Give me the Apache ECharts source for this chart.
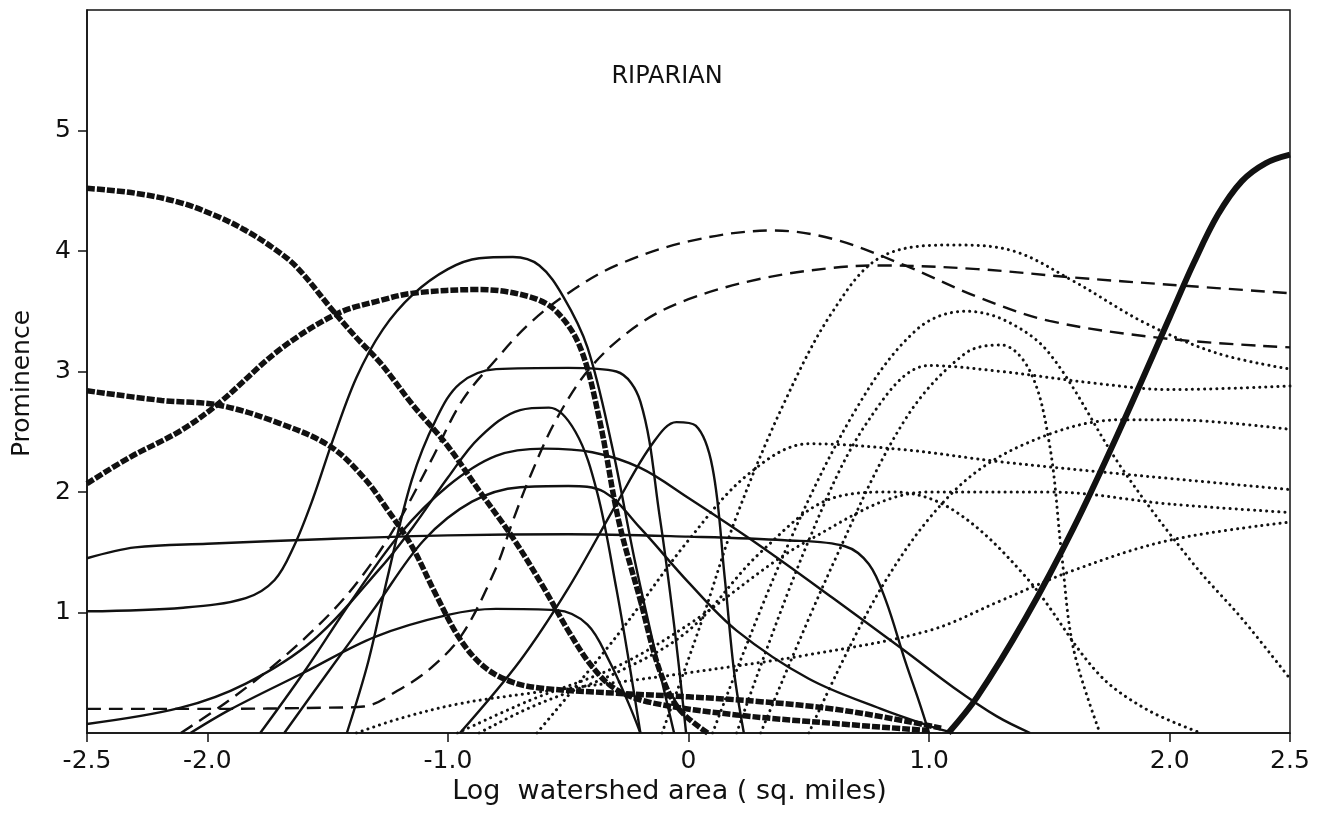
<!DOCTYPE html>
<html>
<head>
<meta charset="utf-8">
<script src="https://cdn.jsdelivr.net/npm/echarts@6/dist/echarts.min.js"></script>
<style>
  html, body { margin: 0; padding: 0; background: #fff; }
  #chart { width: 1327px; height: 819px; }
</style>
</head>
<body>
<div id="chart"></div>
<script>
// Tick positions along each axis
const xTicks = [-2.5, -2.0, -1.0, 0, 1.0, 2.0, 2.5];
const yTicks = [1, 2, 3, 4, 5];

// Hatched (rope) curves: [log area, prominence]
const hatchA = [[-2.5,4.52],[-2.3,4.48],[-2.11,4.40],[-1.95,4.28],[-1.84,4.17],[-1.73,4.03],[-1.63,3.87],[-1.48,3.51],[-1.38,3.28],[-1.28,3.07],[-1.145,2.72],[-1.0,2.38],[-0.87,2.01],[-0.73,1.62],[-0.6,1.2],[-0.5,0.85],[-0.4,0.55],[-0.3,0.36],[-0.15,0.25],[0.2,0.15],[0.6,0.08],[1.0,0.02]];
const hatchB = [[-2.5,2.07],[-2.32,2.29],[-2.11,2.51],[-1.95,2.74],[-1.7,3.18],[-1.46,3.48],[-1.28,3.59],[-1.145,3.65],[-0.87,3.68],[-0.66,3.62],[-0.55,3.5],[-0.45,3.2],[-0.37,2.6],[-0.29,1.76],[-0.2,1.1],[-0.12,0.52],[-0.04,0.2],[0.08,0]];
const hatchC = [[-2.5,2.84],[-2.19,2.76],[-1.95,2.72],[-1.7,2.57],[-1.49,2.38],[-1.35,2.12],[-1.25,1.85],[-1.15,1.55],[-1.05,1.15],[-0.95,0.78],[-0.85,0.55],[-0.73,0.42],[-0.6,0.37],[-0.3,0.33],[0,0.3],[0.3,0.26],[0.6,0.2],[0.9,0.1],[1.05,0.04]];

// Solid curves
const solidA = [[-2.5,1.01],[-2.1,1.04],[-1.84,1.12],[-1.72,1.27],[-1.64,1.55],[-1.56,1.95],[-1.48,2.42],[-1.38,2.95],[-1.27,3.35],[-1.145,3.64],[-1.0,3.85],[-0.87,3.94],[-0.73,3.95],[-0.62,3.88],[-0.52,3.62],[-0.42,3.2],[-0.32,2.4],[-0.22,1.4],[-0.13,0.6],[-0.06,0]];
const solidB = [[-2.5,1.45],[-2.3,1.54],[-2.0,1.57],[-1.5,1.61],[-1.0,1.64],[-0.5,1.65],[0,1.63],[0.4,1.6],[0.65,1.55],[0.75,1.4],[0.82,1.1],[0.9,0.6],[0.96,0.25],[1.0,0]];
const solidC = [[-1.42,0],[-1.33,0.6],[-1.25,1.3],[-1.15,2.1],[-1.05,2.6],[-0.95,2.9],[-0.8,3.02],[-0.5,3.03],[-0.3,3.0],[-0.2,2.75],[-0.12,1.8],[-0.06,0.9],[-0.01,0]];
const solidD = [[-2.5,0.075],[-2.11,0.21],[-1.84,0.41],[-1.56,0.77],[-1.28,1.37],[-1.145,1.71],[-1.0,2.12],[-0.87,2.45],[-0.7,2.68],[-0.58,2.7],[-0.47,2.5],[-0.38,2.0],[-0.3,1.2],[-0.24,0.5],[-0.2,0]];
const solidE = [[-1.78,0],[-1.6,0.5],[-1.4,1.1],[-1.2,1.65],[-1.0,2.05],[-0.8,2.3],[-0.6,2.36],[-0.4,2.33],[-0.2,2.2],[0,1.95],[0.3,1.55],[0.6,1.12],[0.9,0.68],[1.1,0.38],[1.28,0.14],[1.42,0]];
const solidF = [[-1.68,0],[-1.5,0.5],[-1.3,1.05],[-1.1,1.6],[-0.9,1.92],[-0.7,2.04],[-0.5,2.05],[-0.35,2.0],[-0.2,1.7],[0,1.25],[0.2,0.85],[0.5,0.45],[0.8,0.2],[1.0,0.06],[1.1,0]];
const solidG = [[-2.07,0],[-1.9,0.2],[-1.6,0.5],[-1.3,0.8],[-1.0,0.98],[-0.8,1.03],[-0.55,1.02],[-0.42,0.9],[-0.33,0.6],[-0.25,0.25],[-0.2,0]];
const solidH = [[-0.95,0],[-0.7,0.6],[-0.5,1.2],[-0.3,1.9],[-0.15,2.4],[-0.05,2.58],[0.03,2.55],[0.1,2.2],[0.15,1.3],[0.19,0.5],[0.23,0]];

// Heavy solid curve
const heavy = [[1.08,0],[1.2,0.3],[1.4,0.95],[1.6,1.7],[1.8,2.55],[2.0,3.45],[2.1,3.9],[2.2,4.3],[2.3,4.58],[2.4,4.73],[2.5,4.8]];

// Dashed curves
const dashA = [[-2.5,0.2],[-2.0,0.2],[-1.5,0.21],[-1.35,0.22],[-1.21,0.35],[-1.07,0.54],[-0.94,0.82],[-0.8,1.37],[-0.73,1.76],[-0.66,2.12],[-0.55,2.6],[-0.4,3.05],[-0.2,3.4],[0,3.6],[0.3,3.77],[0.6,3.86],[0.8,3.88],[1.2,3.85],[1.6,3.78],[2.0,3.72],[2.5,3.65]];
const dashB = [[-2.11,0],[-1.91,0.27],[-1.7,0.6],[-1.49,0.99],[-1.35,1.32],[-1.21,1.74],[-1.07,2.26],[-0.94,2.76],[-0.8,3.1],[-0.66,3.4],[-0.5,3.65],[-0.3,3.88],[0,4.08],[0.35,4.17],[0.6,4.1],[0.9,3.88],[1.2,3.62],[1.5,3.42],[2.0,3.27],[2.5,3.2]];

// Dotted curves
const dotA = [[-0.11,0],[0.05,0.9],[0.2,1.8],[0.4,2.75],[0.6,3.5],[0.8,3.95],[1.1,4.05],[1.35,4.0],[1.6,3.75],[1.9,3.4],[2.2,3.15],[2.5,3.02]];
const dotB = [[0.1,0],[0.4,1.5],[0.7,2.7],[0.95,3.35],[1.15,3.5],[1.32,3.42],[1.5,3.15],[1.8,2.2],[2.1,1.4],[2.3,0.95],[2.5,0.45]];
const dotC = [[0.3,0],[0.6,1.4],[0.9,2.6],[1.15,3.15],[1.3,3.22],[1.42,3.0],[1.5,2.4],[1.55,1.5],[1.6,0.7],[1.71,0]];
const dotD = [[0.2,0],[0.5,1.6],[0.75,2.6],[1.0,3.05],[1.3,3.0],[1.7,2.9],[2.0,2.85],[2.5,2.88]];
const dotE = [[0.5,0],[0.8,1.2],[1.1,2.0],[1.4,2.4],[1.8,2.6],[2.0,2.6],[2.5,2.52]];
const dotF = [[-0.63,0],[-0.3,0.8],[0.0,1.6],[0.25,2.15],[0.5,2.4],[0.9,2.35],[1.3,2.25],[1.8,2.15],[2.5,2.02]];
const dotG = [[-0.87,0],[-0.66,0.21],[-0.3,0.5],[0,0.85],[0.3,1.5],[0.6,1.95],[0.85,2.0],[1.1,1.85],[1.4,1.3],[1.7,0.5],[1.9,0.2],[2.13,0]];
const dotH = [[-0.96,0],[-0.66,0.27],[-0.3,0.55],[0,0.9],[0.5,1.6],[1.0,2.0],[1.5,2.0],[2.0,1.9],[2.5,1.83]];
const dotI = [[-1.38,0],[-1.2,0.12],[-0.96,0.24],[-0.66,0.33],[-0.3,0.42],[0,0.5],[0.5,0.65],[1.0,0.85],[1.3,1.1],[1.6,1.35],[2.0,1.6],[2.5,1.75]];

const FONT = 'DejaVu Sans';
const INK = '#111';

function curve(data, style, z) {
  return {
    type: 'line', data: data, showSymbol: false, smooth: 0.35,
    silent: true, z: z || 2, lineStyle: style, clip: true
  };
}

const hatchStyle = { color: INK, width: 5.5, type: [8, 2] };
const solidStyle = { color: INK, width: 2.4 };
const dashStyle = { color: INK, width: 2.4, type: [14, 8] };
const dotStyle = { color: INK, width: 3, type: [0.1, 6], cap: 'round' };
const heavyStyle = { color: INK, width: 6 };

const series = [];
[dotA, dotB, dotC, dotD, dotE, dotF, dotG, dotH, dotI].forEach(d => series.push(curve(d, dotStyle, 2)));
[dashA, dashB].forEach(d => series.push(curve(d, dashStyle, 3)));
[solidA, solidB, solidC, solidD, solidE, solidF, solidG, solidH].forEach(d => series.push(curve(d, solidStyle, 3)));
[hatchA, hatchB, hatchC].forEach(d => series.push(curve(d, hatchStyle, 4)));
series.push(curve(heavy, heavyStyle, 5));

const chart = echarts.init(document.getElementById('chart'), null, { renderer: 'canvas' });
chart.setOption({
  animation: false,
  backgroundColor: '#fff',
  textStyle: { fontFamily: FONT },
  title: {
    text: 'RIPARIAN', left: 662, top: 60, textAlign: 'center',
    textStyle: { fontFamily: FONT, fontSize: 24, fontWeight: 'normal', color: INK }
  },
  grid: { left: 87, right: 37, top: 10, bottom: 86, outerBoundsMode: 'none', containLabel: false,
    show: true, borderColor: INK, borderWidth: 1.5, backgroundColor: 'transparent' },
  xAxis: {
    type: 'value', min: -2.5, max: 2.5,
    name: 'Log  watershed area ( sq. miles)', nameLocation: 'middle', nameGap: 43,
    nameTextStyle: { fontFamily: FONT, fontSize: 27, color: INK, padding: [0, 38, 0, 0] },
    axisLine: { show: true, onZero: false, lineStyle: { color: INK, width: 1.5 } },
    axisTick: { show: true, length: 9, lineStyle: { color: INK, width: 1.5 }, customValues: xTicks },
    axisLabel: { customValues: xTicks, color: INK, fontSize: 25, margin: 16, fontFamily: FONT,
      formatter: v => (v === 0 ? '0' : v.toFixed(1)) },
    splitLine: { show: false }
  },
  yAxis: {
    type: 'value', min: 0, max: 6,
    name: 'Prominence', nameLocation: 'middle', nameGap: 52, nameRotate: 90,
    nameTextStyle: { fontFamily: FONT, fontSize: 25, color: INK, padding: [0, 24, 0, 0] },
    axisLine: { show: true, onZero: false, lineStyle: { color: INK, width: 1.5 } },
    axisTick: { show: true, length: 9, lineStyle: { color: INK, width: 1.5 }, customValues: yTicks },
    axisLabel: { customValues: yTicks, color: INK, fontSize: 25, margin: 16, fontFamily: FONT },
    splitLine: { show: false }
  },
  series: series
});
</script>
</body>
</html>
